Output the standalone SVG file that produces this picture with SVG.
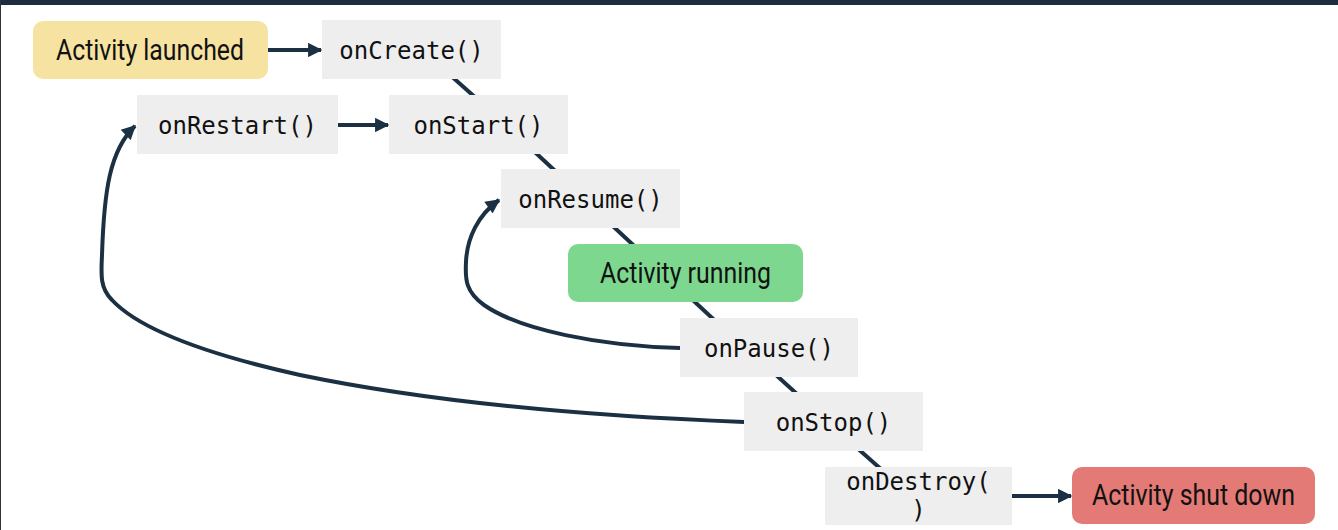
<svg xmlns="http://www.w3.org/2000/svg" width="1338" height="530" viewBox="0 0 1338 530">
<style>
.m{fill:#eeeeee}
.mt{font-family:"DejaVu Sans Mono","Liberation Mono",monospace;font-size:24px;fill:#111111;text-anchor:middle}
.lt{font-family:Roboto,"Liberation Sans",sans-serif;font-size:30px;fill:#111111;text-anchor:middle}
.c{stroke:#1c3044;stroke-width:4;fill:none}
.a{stroke:#1c3044;stroke-width:4;fill:none;marker-end:url(#ah)}
</style>
<defs>
<marker id="ah" viewBox="0 0 10 10" refX="9" refY="5" markerWidth="4" markerHeight="3.6" orient="auto" markerUnits="strokeWidth">
<path d="M0,0 L10,5 L0,10 z" fill="#1c3044"/>
</marker>
</defs>
<rect x="0" y="0" width="1338" height="530" fill="#ffffff"/>
<rect x="0" y="0" width="1338" height="5" fill="#1b2d3e"/>
<rect x="0" y="0" width="1" height="530" fill="#333333"/>
<g id="connectors">
<line class="c" x1="440" y1="66" x2="486" y2="107"/>
<line class="c" x1="524" y1="142" x2="566" y2="181"/>
<line class="c" x1="602" y1="216" x2="645" y2="256"/>
<line class="c" x1="682" y1="290" x2="725" y2="330"/>
<line class="c" x1="765" y1="365" x2="808" y2="404"/>
<line class="c" x1="847" y1="439" x2="891" y2="478"/>
<line class="a" x1="268" y1="50" x2="321" y2="50"/>
<line class="a" x1="338" y1="125" x2="388" y2="125"/>
<line class="a" x1="1012" y1="496" x2="1071" y2="496"/>
<path class="a" d="M680,348 C600,346 520,330 484,305 C466,292 465,280 466,262 C467,238 478,215 499,200"/>
<path class="a" d="M744,422 C560,415 420,400 300,375 C210,355 140,330 112,300 C100,288 101,275 102,255 C104,190 110,150 135,126"/>
</g>
<g id="activity-launched"><rect x="33" y="21" width="235" height="58" rx="10" fill="#f6e3a1"/><text class="lt" x="150" y="60" textLength="188" lengthAdjust="spacingAndGlyphs">Activity launched</text></g>
<g id="onCreate"><rect class="m" x="322" y="20" width="179" height="59"/><text class="mt" x="411.5" y="59">onCreate()</text></g>
<g id="onRestart"><rect class="m" x="137" y="95" width="201" height="59"/><text class="mt" x="237.5" y="134">onRestart()</text></g>
<g id="onStart"><rect class="m" x="389" y="95" width="179" height="59"/><text class="mt" x="478.5" y="134">onStart()</text></g>
<g id="onResume"><rect class="m" x="501" y="169" width="179" height="59"/><text class="mt" x="590.5" y="208">onResume()</text></g>
<g id="activity-running"><rect x="568" y="244" width="235" height="58" rx="10" fill="#7dd78f"/><text class="lt" x="685.5" y="283" textLength="171" lengthAdjust="spacingAndGlyphs">Activity running</text></g>
<g id="onPause"><rect class="m" x="680" y="318" width="178" height="59"/><text class="mt" x="769" y="357">onPause()</text></g>
<g id="onStop"><rect class="m" x="744" y="392" width="179" height="59"/><text class="mt" x="833.5" y="431">onStop()</text></g>
<g id="onDestroy"><rect class="m" x="825" y="467" width="187" height="58"/><text class="mt" x="918.5" y="490">onDestroy(</text><text class="mt" x="918.5" y="518">)</text></g>
<g id="activity-shut-down"><rect x="1072" y="467" width="243" height="57" rx="10" fill="#e47a75"/><text class="lt" x="1193.5" y="505" textLength="203" lengthAdjust="spacingAndGlyphs">Activity shut down</text></g>
</svg>
